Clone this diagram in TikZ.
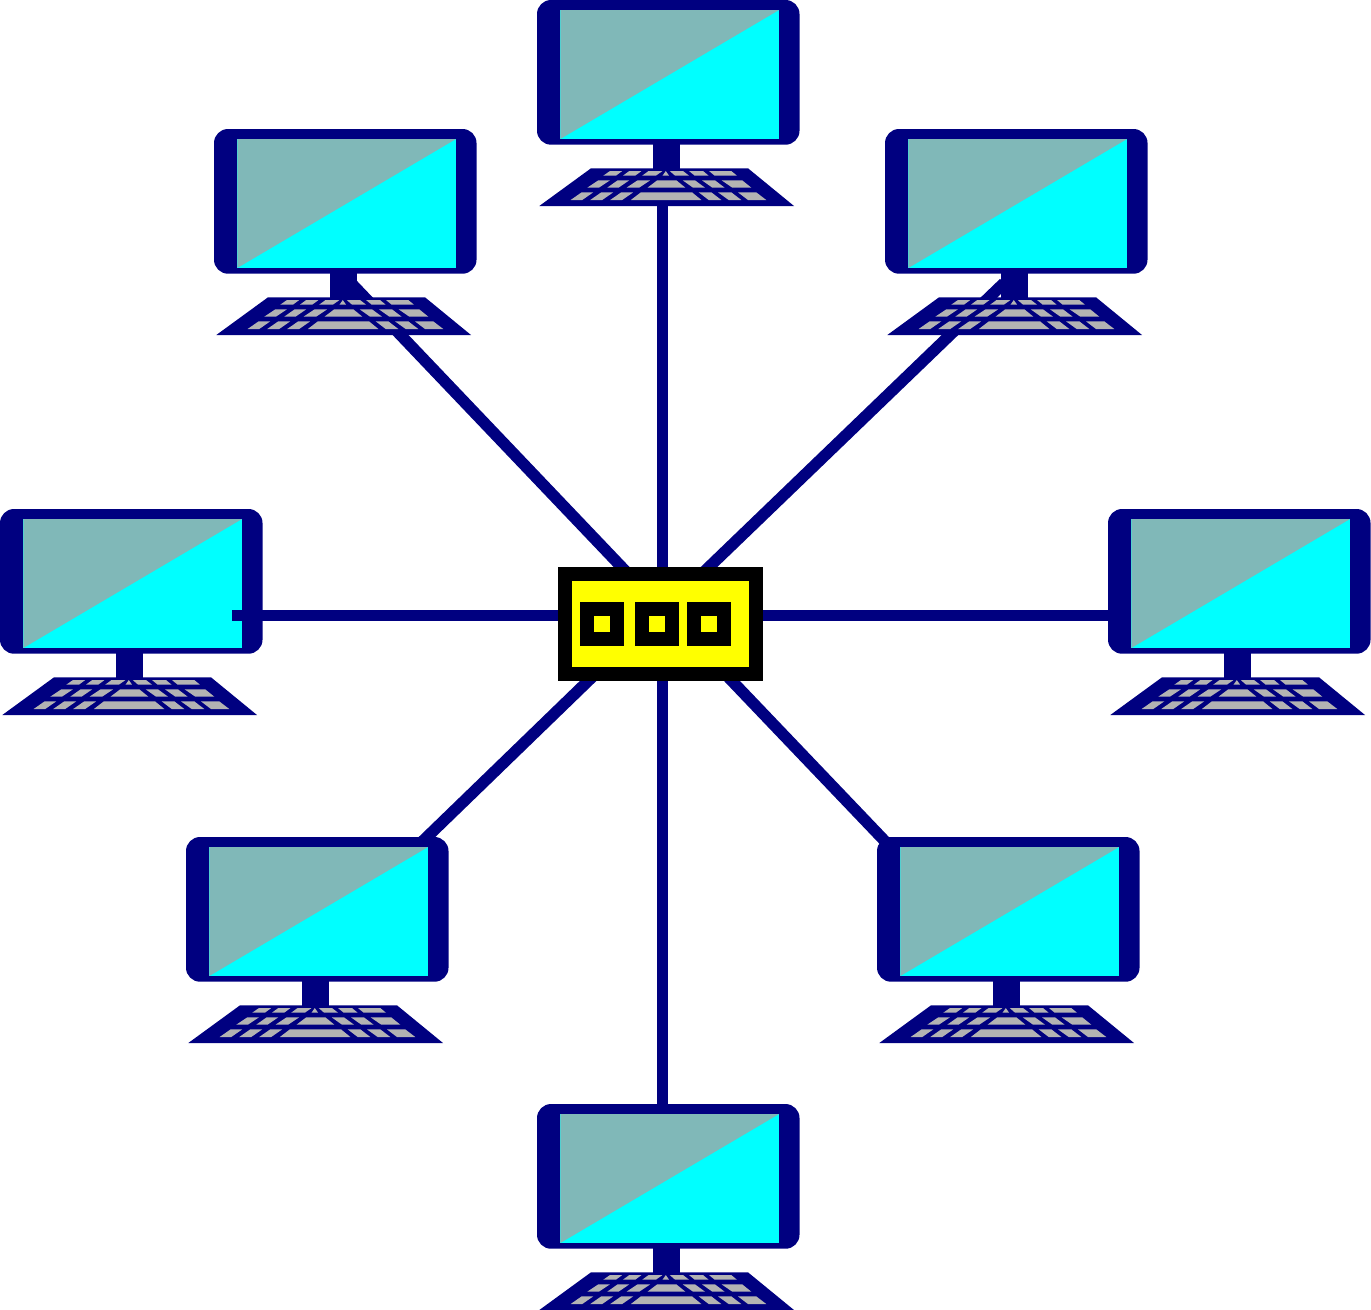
\documentclass[tikz,border=0pt]{standalone}
\usepackage{xcolor}
\usetikzlibrary{calc}
\definecolor{cnavy}{HTML}{000080}
\definecolor{cteal}{HTML}{80B8B8}
\definecolor{ccyan}{HTML}{00FFFF}
\definecolor{ckey}{HTML}{B3B3B3}
\definecolor{cyell}{HTML}{FFFF00}
\tikzset{
  cable/.style={draw=cnavy,line width=.115cm},
  keycap/.style={fill=ckey},
  hubbox/.style={rectangle,draw=black,fill=cyell,line width=.14cm,inner sep=0,minimum width=1.91cm,minimum height=1cm},
  socket/.style={rectangle,draw=black,fill=cyell,line width=.14cm,inner sep=0,minimum size=.3cm},
  computer/.pic={
    \fill[cnavy,rounded corners=.14cm] (0,0) rectangle (262.5,144.7);
    \fill[ccyan] (23.3,10) rectangle (242,139);
    \fill[cteal] (23.3,139)--(23.3,10)--(242,10)--cycle;
    \fill[cnavy] (116.3,144) rectangle (143,169);
    \fill[cnavy] (54,168.3)--(211,168.3)--(257,206)--(2.3,206)--cycle;
    % keys, measured on a 3x grid
    \begin{scope}[xshift=-.07cm,x=.003333cm,y=-.003333cm]
    \foreach \a/\b/\c/\d in {240/277/220/258,298/335/279/316,356/398/337/378,408/408/398/418,
      420/460/436/478,478/520/495/537,538/605/555/622}
      \fill[keycap] (\a,514)--(\b,514)--(\d,528)--(\c,528)--cycle;
    \foreach \a/\b/\c/\d in {205/240/172/207,263/298/232/266,323/361/290/328,382/440/353/467,
      459/496/490/526,517/556/548/585,576/638/608/665}
      \fill[keycap] (\a,542)--(\b,542)--(\d,564)--(\c,564)--cycle;
    \foreach \a/\b/\c/\d in {155/190/122/157,214/250/181/217,274/310/241/277,333/487/303/515,
      507/545/537/575,565/605/597/635,625/680/655/710}
      \fill[keycap] (\a,578)--(\b,578)--(\d,601)--(\c,601)--cycle;
    \end{scope}
  }
}
\begin{document}
\begin{tikzpicture}[x=.01cm,y=-.01cm]
\useasboundingbox (0,0) rectangle (1371,1309);
\coordinate (PT) at (662.5,150);
\coordinate (PL) at (232,615.5);
\coordinate (PR) at (1120,615.5);
\coordinate (PB) at (662.5,1110);
\coordinate (PTL) at (351,283);
\coordinate (PTR) at (1004,283);
\coordinate (PLL) at (418.7,845);
\coordinate (PLR) at (888.6,845);
\coordinate (HTL) at (634,580);
\coordinate (HTR) at (695.5,580);
\coordinate (HLL) at (599.4,670);
\coordinate (HLR) at (721.5,670);
\coordinate (HT) at (662.5,580);
\coordinate (HB) at (662.5,670);
\coordinate (HL) at (570,615.5);
\coordinate (HR) at (750,615.5);
\draw[cable] (HT)--(PT);
\draw[cable] (HB)--(PB);
\draw[cable] (HR)--(PR);
\draw[cable] (HTL)--(PTL);
\draw[cable] (HTR)--(PTR);
\draw[cable] (HLL)--(PLL);
\draw[cable] (HLR)--(PLR);
\pic (C1) at (537,0) {computer};
\pic (C2) at (885,129) {computer};
\pic (C3) at (1108,509) {computer};
\pic (C4) at (877,837) {computer};
\pic (C5) at (537,1104) {computer};
\pic (C6) at (186,837) {computer};
\pic (C7) at (0,509) {computer};
\pic (C8) at (214,129) {computer};
\draw[cable] (HL)--(PL);
\node[hubbox] (hub) at (660.5,623.8) {};
\foreach \i/\x in {1/602.2,2/656.5,3/709.2}
  \node[socket] (S\i) at (\x,624.2) {};
\end{tikzpicture}
\end{document}
